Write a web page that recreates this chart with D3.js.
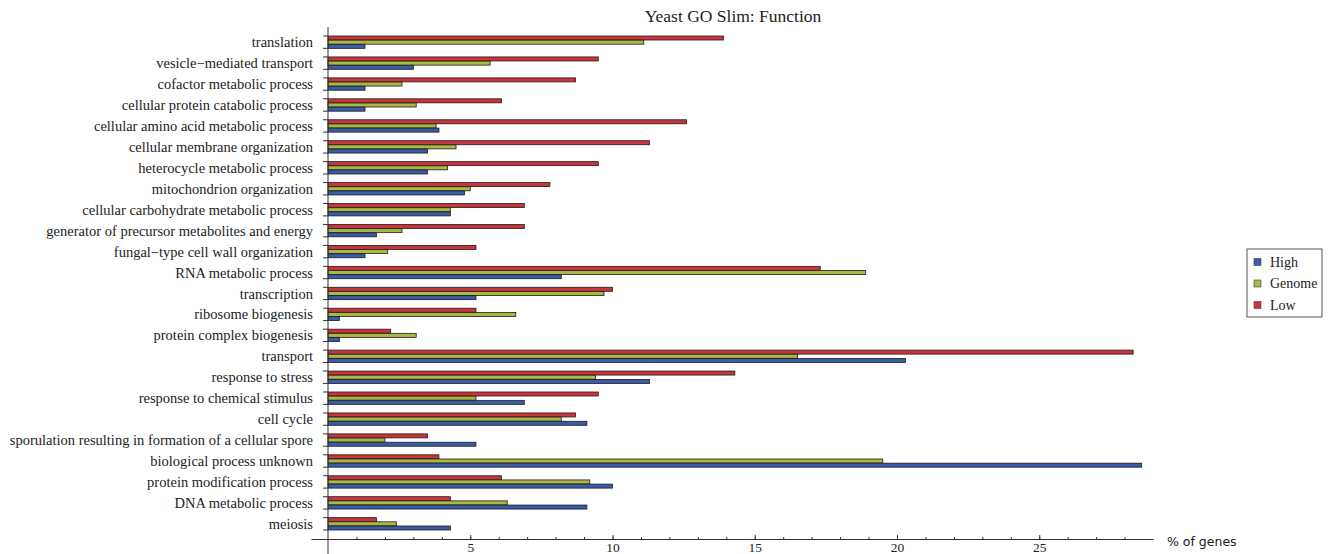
<!DOCTYPE html>
<html>
<head>
<meta charset="utf-8">
<script src="https://cdn.jsdelivr.net/npm/d3@7"></script>
<style>
  body { margin: 0; background: #fff; }
  svg text { fill: #222; }
  .cat-label { font-family: "Liberation Serif", "DejaVu Serif", serif; font-size: 14.5px; }
  .x-axis text { font-family: "Liberation Serif", serif; font-size: 13.5px; }
</style>
</head>
<body>
<div id="chart"></div>
<script>
// categories, top to bottom
const categories = [
  "translation",
  "vesicle\u2212mediated transport",
  "cofactor metabolic process",
  "cellular protein catabolic process",
  "cellular amino acid metabolic process",
  "cellular membrane organization",
  "heterocycle metabolic process",
  "mitochondrion organization",
  "cellular carbohydrate metabolic process",
  "generator of precursor metabolites and energy",
  "fungal\u2212type cell wall organization",
  "RNA metabolic process",
  "transcription",
  "ribosome biogenesis",
  "protein complex biogenesis",
  "transport",
  "response to stress",
  "response to chemical stimulus",
  "cell cycle",
  "sporulation resulting in formation of a cellular spore",
  "biological process unknown",
  "protein modification process",
  "DNA metabolic process",
  "meiosis"
];

// % of genes, same order as categories
const lowValues = [13.9, 9.5, 8.7, 6.1, 12.6, 11.3, 9.5, 7.8, 6.9, 6.9, 5.2, 17.3,
  10.0, 5.2, 2.2, 28.3, 14.3, 9.5, 8.7, 3.5, 3.9, 6.1, 4.3, 1.7];
const genomeValues = [11.1, 5.7, 2.6, 3.1, 3.8, 4.5, 4.2, 5.0, 4.3, 2.6, 2.1, 18.9,
  9.7, 6.6, 3.1, 16.5, 9.4, 5.2, 8.2, 2.0, 19.5, 9.2, 6.3, 2.4];
const highValues = [1.3, 3.0, 1.3, 1.3, 3.9, 3.5, 3.5, 4.8, 4.3, 1.7, 1.3, 8.2,
  5.2, 0.4, 0.4, 20.3, 11.3, 6.9, 9.1, 5.2, 28.6, 10.0, 9.1, 4.3];

const seriesNames = ["Low", "Genome", "High"];      // drawing order inside a group
const legendNames = ["High", "Genome", "Low"];
const majorTicks = [5, 10, 15, 20, 25];
const minorTicks = d3.range(1, 29);

const colors = { High: "#3a5ba6", Genome: "#a9b93f", Low: "#cc343b" };

const width = 1328, height = 554;
const x0 = 328, y0 = 539;

const svg = d3.select("#chart").append("svg")
  .attr("width", width)
  .attr("height", height);

const rows = categories.map((c, i) => ({
  cat: c,
  Low: lowValues[i],
  Genome: genomeValues[i],
  High: highValues[i]
}));

// x scale: extended slightly left of 0 so the axis line crosses the y axis
const xScale = d3.scaleLinear().domain([-0.6, 29]).range([x0 - 0.6 * 28.45, x0 + 29 * 28.45]);

const yScale = d3.scaleBand().domain(categories).range([36, 530]).paddingInner(0.41).paddingOuter(0);
const ySub = d3.scaleBand().domain(seriesNames).range([0, yScale.bandwidth()]).paddingInner(0.04);

// title
svg.append("text")
  .attr("x", 733).attr("y", 22)
  .attr("text-anchor", "middle")
  .style("font-family", "Liberation Serif, serif")
  .style("font-size", "17.5px")
  .text("Yeast GO Slim: Function");

// bars
const groups = svg.selectAll(".group")
  .data(rows)
  .join("g")
  .attr("class", "group")
  .attr("transform", d => `translate(0,${yScale(d.cat)})`);

groups.selectAll("rect")
  .data(d => seriesNames.map(s => ({ key: s, value: d[s] })))
  .join("rect")
  .attr("x", xScale(0))
  .attr("y", d => ySub(d.key))
  .attr("width", d => xScale(d.value) - xScale(0))
  .attr("height", ySub.bandwidth())
  .attr("fill", d => colors[d.key])
  .attr("stroke", "#1c1c1c")
  .attr("stroke-width", 0.8);

// minor x ticks
svg.append("g")
  .attr("transform", `translate(0,${y0})`)
  .call(d3.axisBottom(xScale).tickValues(minorTicks).tickSizeInner(-2).tickSizeOuter(0).tickFormat(""))
  .call(g => g.select(".domain").remove())
  .selectAll("line").attr("stroke", "#333");

// major x axis
const xAxisG = svg.append("g")
  .attr("class", "x-axis")
  .attr("transform", `translate(0,${y0})`)
  .call(d3.axisBottom(xScale).tickValues(majorTicks).tickSizeInner(-4).tickSizeOuter(0).tickPadding(3));
xAxisG.select(".domain").attr("stroke", "#333");
xAxisG.selectAll("line").attr("stroke", "#333");
xAxisG.selectAll("text").attr("fill", "#222");

// y axis line
svg.append("line")
  .attr("x1", x0).attr("x2", x0)
  .attr("y1", 27).attr("y2", 554)
  .attr("stroke", "#333");

// y tick marks at top and bottom of each group
const yTicks = [];
categories.forEach(c => {
  yTicks.push(yScale(c));
  yTicks.push(yScale(c) + yScale.bandwidth());
});
svg.selectAll(".ytick")
  .data(yTicks)
  .join("line")
  .attr("class", "ytick")
  .attr("x1", x0 - 5).attr("x2", x0)
  .attr("y1", d => d).attr("y2", d => d)
  .attr("stroke", "#333");

// category labels
svg.selectAll(".cat-label")
  .data(categories)
  .join("text")
  .attr("class", "cat-label")
  .attr("x", 313)
  .attr("y", d => yScale(d) + yScale.bandwidth() / 2)
  .attr("dy", "0.35em")
  .attr("text-anchor", "end")
  .text(d => d);

// axis title
svg.append("text")
  .attr("x", 1167).attr("y", 546)
  .style("font-family", "DejaVu Sans, sans-serif")
  .style("font-size", "12.5px")
  .text("% of genes");

// legend
const legend = svg.append("g").attr("transform", "translate(1247,249)");
legend.append("rect")
  .attr("width", 75).attr("height", 68)
  .attr("fill", "#fff")
  .attr("stroke", "#555");
const items = legend.selectAll(".item")
  .data(legendNames)
  .join("g")
  .attr("class", "item")
  .attr("transform", (d, i) => `translate(7,${13 + i * 21.5})`);
items.append("rect")
  .attr("x", 0).attr("y", -3.5)
  .attr("width", 7).attr("height", 7)
  .attr("fill", d => colors[d])
  .attr("stroke", "#444").attr("stroke-width", 0.6);
items.append("text")
  .attr("x", 16).attr("dy", "0.35em")
  .style("font-family", "Liberation Serif, serif")
  .style("font-size", "14px")
  .text(d => d);
</script>
</body>
</html>
